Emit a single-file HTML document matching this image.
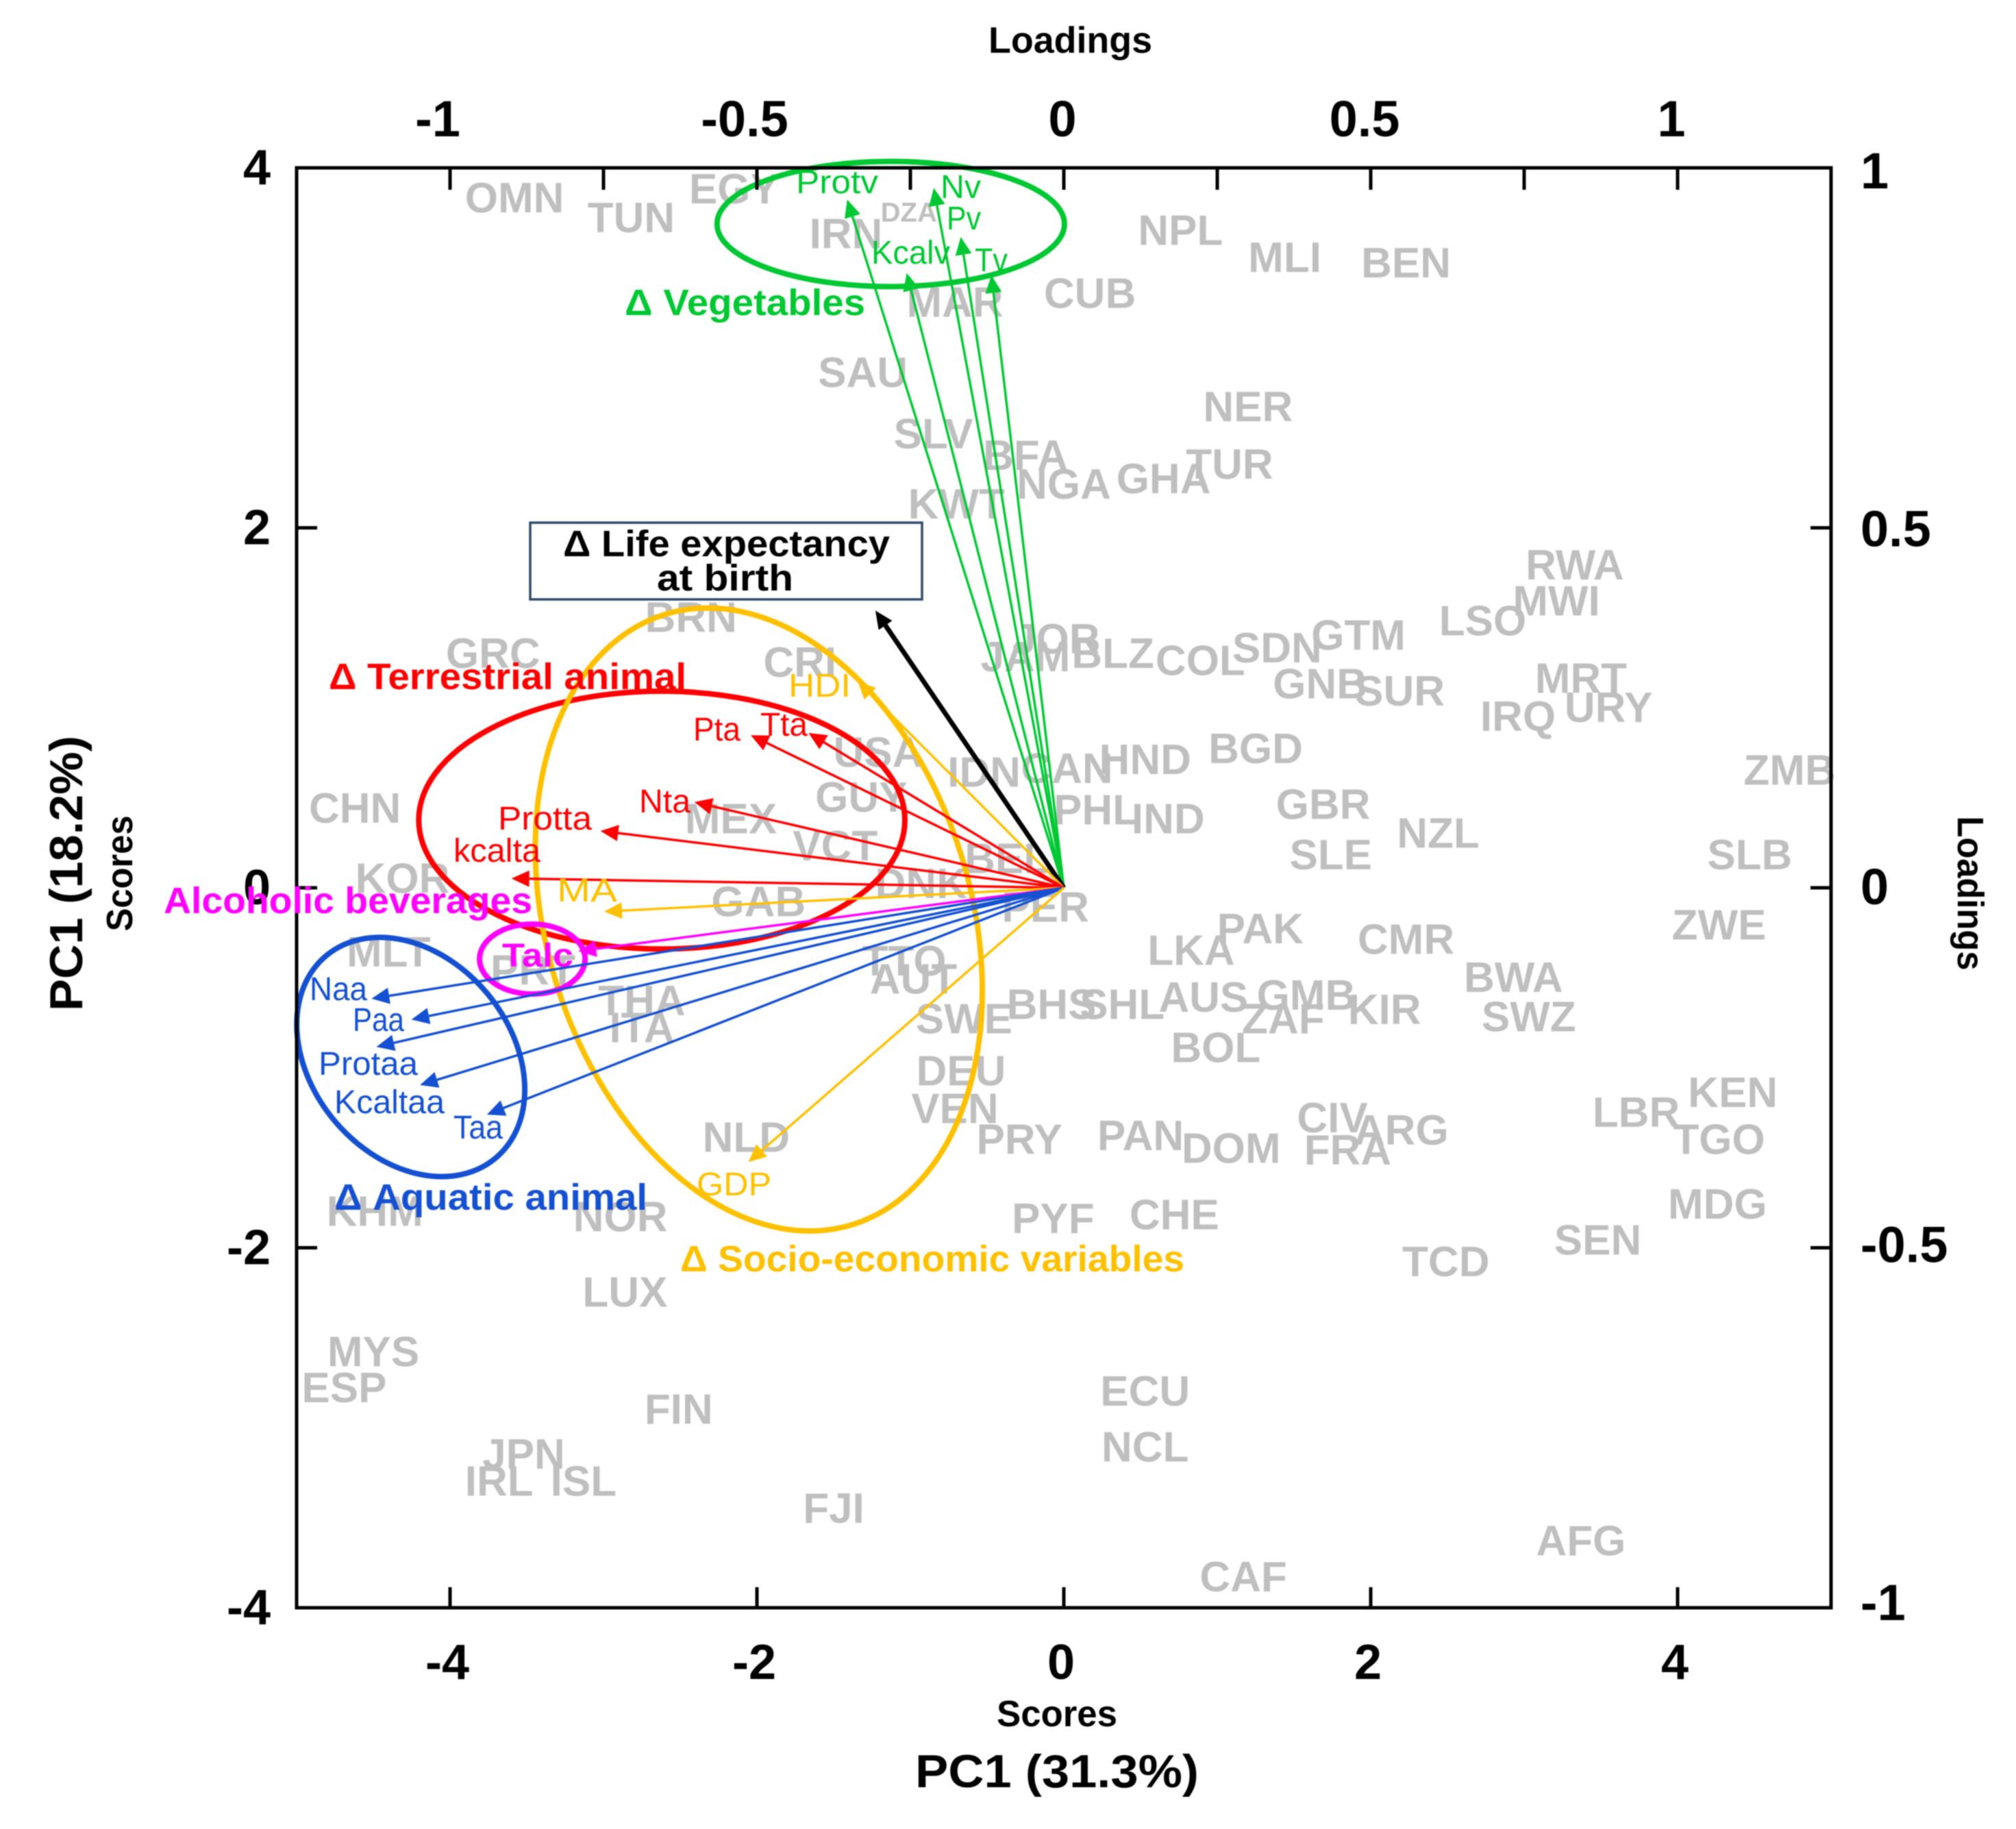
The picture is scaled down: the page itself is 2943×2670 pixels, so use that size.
<!DOCTYPE html>
<html>
<head>
<meta charset="utf-8">
<title>PCA biplot</title>
<style>
html,body{margin:0;padding:0;background:#fff}
svg{display:block;filter:blur(0.8px)}
text{font-family:"Liberation Sans",Arial,sans-serif}
.grp{font-weight:700;font-size:54px}
.var{font-size:48px}
.ttl{font-weight:700;font-size:54px;fill:#000}
.big{font-weight:700;font-size:68px;fill:#000}
</style>
</head>
<body>
<svg id="chart" xmlns="http://www.w3.org/2000/svg" width="2943" height="2670" viewBox="0 0 2943 2670">
  <rect x="0" y="0" width="2943" height="2670" fill="#fff"/>
  <g id="countries"></g>
  <g id="ellipses"></g>
  <g id="arrows"></g>
  <rect x="433" y="245" width="2240" height="2102" fill="none" stroke="#000" stroke-width="5"/>
  <g id="axes"></g>

  <text class="ttl" x="1443" y="77" textLength="239" lengthAdjust="spacingAndGlyphs">Loadings</text>
  <text class="ttl" x="1455" y="2520" textLength="176" lengthAdjust="spacingAndGlyphs">Scores</text>
  <text class="big" x="1336" y="2609" textLength="414" lengthAdjust="spacingAndGlyphs">PC1 (31.3%)</text>
  <text class="big" x="120" y="1275" text-anchor="middle" transform="rotate(-90 120 1275)" textLength="402" lengthAdjust="spacingAndGlyphs">PC1 (18.2%)</text>
  <text class="ttl" x="193" y="1275" text-anchor="middle" transform="rotate(-90 193 1275)" textLength="169" lengthAdjust="spacingAndGlyphs">Scores</text>
  <text class="ttl" x="2858" y="1304" text-anchor="middle" transform="rotate(90 2858 1304)" textLength="225" lengthAdjust="spacingAndGlyphs">Loadings</text>

  <rect x="774" y="763" width="572" height="112" fill="#fff" fill-opacity="0" stroke="#2f4a6a" stroke-width="3.5"/>
  <text class="grp" x="822" y="812" fill="#000" textLength="477" lengthAdjust="spacingAndGlyphs">Δ Life expectancy</text>
  <text class="grp" x="959" y="862" fill="#000" textLength="199" lengthAdjust="spacingAndGlyphs">at birth</text>
  <text class="grp" x="912" y="460" fill="#00c832" textLength="351" lengthAdjust="spacingAndGlyphs">Δ Vegetables</text>
  <text class="grp" x="480" y="1006" fill="#ff0000" textLength="522" lengthAdjust="spacingAndGlyphs">Δ Terrestrial animal</text>
  <text class="grp" x="239" y="1333" fill="#ff00ff" textLength="538" lengthAdjust="spacingAndGlyphs">Alcoholic beverages</text>
  <text class="grp" x="488" y="1766" fill="#1450d2" textLength="457" lengthAdjust="spacingAndGlyphs">Δ Aquatic animal</text>
  <text class="grp" x="993" y="1856" fill="#ffc000" textLength="736" lengthAdjust="spacingAndGlyphs">Δ Socio-economic variables</text>

  <g>
    <text class="var" x="1162" y="282" fill="#00c832" textLength="120" lengthAdjust="spacingAndGlyphs">Protv</text>
    <text class="var" x="1373" y="289" fill="#00c832" textLength="59" lengthAdjust="spacingAndGlyphs">Nv</text>
    <text class="var" x="1382" y="335" fill="#00c832" textLength="50" lengthAdjust="spacingAndGlyphs">Pv</text>
    <text class="var" x="1272" y="385" fill="#00c832" textLength="115" lengthAdjust="spacingAndGlyphs">Kcalv</text>
    <text class="var" x="1423" y="396" fill="#00c832" textLength="48" lengthAdjust="spacingAndGlyphs">Tv</text>
    <text class="var" x="1151" y="1017" fill="#ffc000" textLength="91" lengthAdjust="spacingAndGlyphs">HDI</text>
    <text class="var" x="1110" y="1074" fill="#ff0000" textLength="69" lengthAdjust="spacingAndGlyphs">Tta</text>
    <text class="var" x="1012" y="1081" fill="#ff0000" textLength="69" lengthAdjust="spacingAndGlyphs">Pta</text>
    <text class="var" x="933" y="1186" fill="#ff0000" textLength="75" lengthAdjust="spacingAndGlyphs">Nta</text>
    <text class="var" x="727" y="1211" fill="#ff0000" textLength="137" lengthAdjust="spacingAndGlyphs">Protta</text>
    <text class="var" x="662" y="1258" fill="#ff0000" textLength="127" lengthAdjust="spacingAndGlyphs">kcalta</text>
    <text class="var" x="813" y="1316" fill="#ffc000" textLength="88" lengthAdjust="spacingAndGlyphs">MA</text>
    <text class="var" x="733" y="1411" fill="#ff00ff" font-weight="700" textLength="104" lengthAdjust="spacingAndGlyphs">Talc</text>
    <text class="var" x="452" y="1460" fill="#1450d2" textLength="84" lengthAdjust="spacingAndGlyphs">Naa</text>
    <text class="var" x="515" y="1505" fill="#1450d2" textLength="75" lengthAdjust="spacingAndGlyphs">Paa</text>
    <text class="var" x="465" y="1569" fill="#1450d2" textLength="145" lengthAdjust="spacingAndGlyphs">Protaa</text>
    <text class="var" x="488" y="1625" fill="#1450d2" textLength="161" lengthAdjust="spacingAndGlyphs">Kcaltaa</text>
    <text class="var" x="662" y="1662" fill="#1450d2" textLength="72" lengthAdjust="spacingAndGlyphs">Taa</text>
    <text class="var" x="1017" y="1745" fill="#ffc000" textLength="109" lengthAdjust="spacingAndGlyphs">GDP</text>
  </g>
</svg>
<script>
// Country scores
var countryCodes = ["OMN","TUN","EGY","IRN","DZA","MAR","CUB","NPL","MLI","BEN","SAU","SLV","BFA","NGA","GHA","TUR","NER","KWT","BRN","GRC","CRI","JOR","JAM","BLZ","COL","SDN","GTM","LSO","RWA","MWI","MRT","URY","IRQ","GNB","SUR","USA","IDN","CAN","HND","BGD","ZMB","CHN","GUY","MEX","VCT","PHL","IND","GBR","NZL","SLE","SLB","KOR","BEL","DNK","GAB","PER","ZWE","PAK","LKA","CMR","MLT","PRT","TTO","AUT","THA","ITA","SWE","BHS","SHL","AUS","GMB","ZAF","KIR","BWA","SWZ","BOL","DEU","VEN","NLD","PRY","PAN","DOM","CIV","ARG","FRA","LBR","KEN","TGO","MDG","SEN","TCD","PYF","CHE","KHM","NOR","LUX","MYS","ESP","FIN","ECU","NCL","JPN","IRL","ISL","FJI","AFG","CAF"];
var scoreX = [-3.58,-2.82,-2.15,-1.42,-1.01,-0.71,0.17,0.76,1.44,2.23,-1.31,-0.85,-0.25,0.00,0.65,1.08,1.20,-0.70,-2.43,-3.72,-1.72,-0.05,-0.25,0.32,0.89,1.39,1.92,2.73,3.33,3.21,3.37,3.55,2.96,1.67,2.19,-1.21,-0.52,0.02,0.53,1.25,4.73,-4.62,-1.32,-2.17,-1.49,0.21,0.68,1.69,2.44,1.74,4.47,-4.31,-0.37,-0.93,-1.99,-0.12,4.27,1.28,0.83,2.23,-4.40,-3.46,-1.04,-0.98,-2.75,-2.75,-0.65,-0.08,0.38,0.91,1.58,1.43,2.09,2.93,3.03,0.99,-0.67,-0.71,-2.07,-0.29,0.50,1.09,1.75,2.20,1.85,3.73,4.36,4.27,4.26,3.48,2.49,-0.07,0.72,-4.49,-2.89,-2.86,-4.50,-4.69,-2.51,0.53,0.53,-3.52,-3.68,-3.13,-1.50,3.37,1.17];
var scoreY = [3.83,3.72,3.88,3.63,3.75,3.25,3.30,3.65,3.50,3.47,2.86,2.52,2.40,2.24,2.27,2.35,2.67,2.13,1.50,1.30,1.25,1.38,1.28,1.30,1.26,1.33,1.40,1.48,1.79,1.59,1.16,1.00,0.95,1.13,1.09,0.75,0.64,0.66,0.71,0.77,0.65,0.44,0.50,0.38,0.23,0.43,0.38,0.46,0.30,0.18,0.18,0.05,0.16,0.02,-0.08,-0.11,-0.21,-0.23,-0.35,-0.29,-0.36,-0.46,-0.41,-0.51,-0.63,-0.78,-0.73,-0.65,-0.65,-0.61,-0.60,-0.73,-0.68,-0.50,-0.72,-0.89,-1.02,-1.23,-1.39,-1.40,-1.38,-1.45,-1.28,-1.35,-1.46,-1.25,-1.14,-1.40,-1.76,-1.96,-2.08,-1.84,-1.82,-1.80,-1.83,-2.25,-2.58,-2.78,-2.90,-2.80,-3.11,-3.15,-3.30,-3.30,-3.45,-3.63,-3.83];

// Variable loadings
var variableNames = ["Protv","Nv","Pv","Kcalv","Tv","LifeExpectancy","HDI","Tta","Pta","Nta","Protta","kcalta","MA","Talc","Naa","Paa","Protaa","Kcaltaa","Taa","GDP"];
var variableGroups = ["veg","veg","veg","veg","veg","life","socio","terr","terr","terr","terr","terr","socio","alc","aqua","aqua","aqua","aqua","aqua","socio"];
var loadingX = [-0.353,-0.212,-0.168,-0.256,-0.118,-0.307,-0.336,-0.416,-0.510,-0.602,-0.755,-0.900,-0.749,-0.791,-1.128,-1.063,-1.120,-1.049,-0.940,-0.514];
var loadingY = [0.956,0.972,0.904,0.854,0.851,0.385,0.287,0.215,0.212,0.119,0.079,0.013,-0.033,-0.088,-0.154,-0.183,-0.221,-0.274,-0.315,-0.381];

// Group ellipses (loading units)
var ellipseGroups = ["veg","terr","socio","aqua","alc"];
var ellipseCx = [-0.282,-0.655,-0.497,-1.064,-0.866];
var ellipseCy = [0.922,0.094,-0.044,-0.235,-0.099];
var ellipseMajor = [0.283,0.396,0.520,0.215,0.086];
var ellipseMinor = [0.102,0.210,0.346,0.162,0.057];
var ellipseAngle = [0,0,73,50,0];

// Axis ticks
var bottomTicks = [-4,-2,0,2,4];
var leftTicks = [4,2,0,-2,-4];
var topTicks = [-1,-0.5,0,0.5,1];
var rightTicks = [1,0.5,0,-0.5,-1];
var topMinorTicks = [-1,-0.75,-0.5,-0.25,0,0.25,0.5,0.75,1];

var groupColors = {veg:"#00c832",life:"#000000",socio:"#ffc000",terr:"#ff0000",alc:"#ff00ff",aqua:"#1450d2"};
var NS = "http://www.w3.org/2000/svg";
function scoreToX(v){return 1553+224*v;}
function scoreToY(v){return 1296-262.75*v;}
function loadToX(v){return 1553+896*v;}
function loadToY(v){return 1296-1051*v;}
function make(tag,parent,attrs){
  var el=document.createElementNS(NS,tag);
  for(var k in attrs){el.setAttribute(k,attrs[k]);}
  parent.appendChild(el);
  return el;
}

// Country labels
var countriesG=document.getElementById("countries");
countryCodes.forEach(function(code,i){
  var el=make("text",countriesG,{x:scoreToX(scoreX[i]),y:scoreToY(scoreY[i]),"text-anchor":"middle","dominant-baseline":"central","font-weight":"700","font-size":code==="DZA"?40:62,fill:"#bfbfbf"});
  
  
  el.textContent=code;
});

// Ellipses
var ellipsesG=document.getElementById("ellipses");
ellipseGroups.forEach(function(g,i){
  var cx=loadToX(ellipseCx[i]),cy=loadToY(ellipseCy[i]);
  var el=make("ellipse",ellipsesG,{cx:cx,cy:cy,rx:896*ellipseMajor[i],ry:896*ellipseMinor[i],transform:"rotate("+ellipseAngle[i]+" "+cx+" "+cy+")",fill:"none",stroke:groupColors[g],"stroke-width":8});
  
  
});

// Arrows
var arrowsG=document.getElementById("arrows");
variableNames.forEach(function(name,i){
  var x0=loadToX(0),y0=loadToY(0),x1=loadToX(loadingX[i]),y1=loadToY(loadingY[i]);
  var dx=x1-x0,dy=y1-y0,len=Math.sqrt(dx*dx+dy*dy),ux=dx/len,uy=dy/len;
  var col=groupColors[variableGroups[i]];
  var isLife=variableGroups[i]==="life";
  var headLen=26,headW=12;
  var bx=x1-ux*headLen,by=y1-uy*headLen;
  var line=make("line",arrowsG,{x1:x0,y1:y0,x2:bx,y2:by,stroke:col,"stroke-width":isLife?7:3.5});
  
  
  var head=make("polygon",arrowsG,{points:x1+","+y1+" "+(bx-uy*headW)+","+(by+ux*headW)+" "+(bx+uy*headW)+","+(by-ux*headW),fill:col});
  
  
});

// Ticks and tick labels
var axesG=document.getElementById("axes");
function tickLine(x1,y1,x2,y2){
  var t=make("line",axesG,{x1:x1,y1:y1,x2:x2,y2:y2,stroke:"#000","stroke-width":5});
  
  
}
function tickText(x,y,anchor,str,size){
  var t=make("text",axesG,{x:x,y:y,"text-anchor":anchor,"font-weight":"700","font-size":size,fill:"#000"});
  
  
  t.textContent=str;
}
bottomTicks.forEach(function(v){
  var x=scoreToX(v);
  tickLine(x,2347,x,2317);
  tickText(x-4,2451,"middle",String(v),72);
});
leftTicks.forEach(function(v){
  var y=scoreToY(v);
  if(v!==4&&v!==-4){tickLine(433,y,463,y);}
  tickText(395,y+24,"end",String(v),72);
});
topMinorTicks.forEach(function(v){
  var x=loadToX(v);
  tickLine(x,245,x,277);
});
topTicks.forEach(function(v){
  var nudge=v<0?-18:(v===0?-2:-9);
  tickText(loadToX(v)+nudge,199,"middle",String(v),74);
});
rightTicks.forEach(function(v){
  var y=loadToY(v);
  if(v!==1&&v!==-1){tickLine(2673,y,2643,y);}
  tickText(2716,y+24+6*v,"start",String(v),74);
});
</script>
</body>
</html>
